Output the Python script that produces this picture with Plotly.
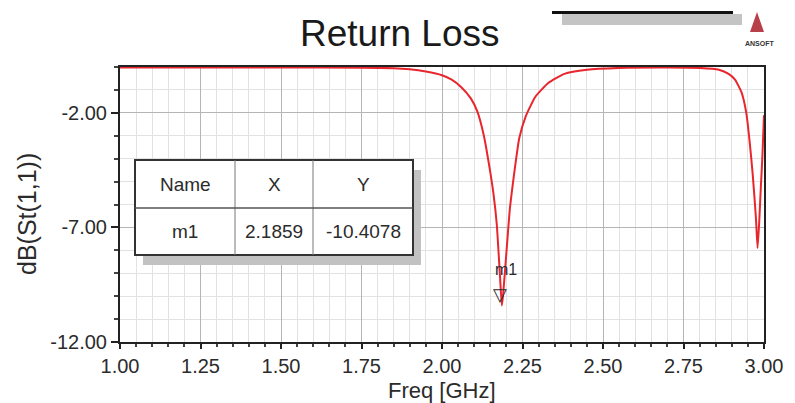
import plotly.graph_objects as go

# ---- data ----
freq_ghz = [1.00, 1.25, 1.50, 1.75, 1.85, 1.90, 1.95, 2.00, 2.03, 2.06, 2.09, 2.11,
            2.13, 2.15, 2.16, 2.17, 2.18, 2.1859, 2.19, 2.20, 2.21, 2.22, 2.24,
            2.26, 2.29, 2.33, 2.38, 2.45, 2.55, 2.70, 2.80, 2.86, 2.89, 2.91,
            2.93, 2.945, 2.955, 2.965, 2.975, 2.98, 2.985, 2.99, 2.995, 3.00]
s11_db = [-0.02, -0.02, -0.02, -0.03, -0.05, -0.10, -0.20, -0.36, -0.55, -0.88, -1.38, -1.95,
          -3.00, -4.60, -5.55, -6.85, -9.10, -10.41, -9.90, -8.10, -6.30, -5.10, -3.10,
          -2.15, -1.30, -0.70, -0.30, -0.12, -0.04, -0.02, -0.04, -0.12, -0.30, -0.55,
          -1.10, -2.00, -3.20, -4.70, -6.60, -7.90, -6.80, -5.30, -3.90, -2.10]

marker_name = ["m1"]
marker_x = [2.1859]
marker_y = [-10.4078]

table_header = ["Name", "X", "Y"]

x_tick_vals = [1.00, 1.25, 1.50, 1.75, 2.00, 2.25, 2.50, 2.75, 3.00]
x_tick_text = ["1.00", "1.25", "1.50", "1.75", "2.00", "2.25", "2.50", "2.75", "3.00"]
y_tick_vals = [-2, -7, -12]
y_tick_text = ["-2.00", "-7.00", "-12.00"]

# ---- layout geometry (pixels) ----
W, H = 795, 403
L, R, T, B = 120, 764, 67, 342


def px(x):
    return (x - L) / (R - L)


def py(y):
    return (B - y) / (B - T)


FONT = "Liberation Sans, Arial, sans-serif"
TXT = "#2b2b2b"

fig = go.Figure()
fig.add_trace(go.Scatter(
    x=freq_ghz, y=s11_db, mode="lines",
    line=dict(color="#e8262d", width=2, shape="spline", smoothing=0.5),
    hoverinfo="skip", showlegend=False))

shapes = []
annotations = []

# marker m1
annotations.append(dict(x=marker_x[0], y=marker_y[0], xref="x", yref="y", text="▽",
                        showarrow=False, yanchor="bottom", xanchor="center", xshift=-2, yshift=-1,
                        font=dict(family="DejaVu Sans", size=18, color=TXT)))
annotations.append(dict(x=marker_x[0], y=marker_y[0], xref="x", yref="y", text=marker_name[0],
                        showarrow=False, yanchor="bottom", xanchor="left", xshift=-9, yshift=26,
                        font=dict(family=FONT, size=16, color=TXT)))

# marker table
tx0, tx1, ty0, ty1 = 135, 413, 160, 255
col1, col2, rowm = 235, 313, 208
shapes.append(dict(type="rect", xref="paper", yref="paper",
                   x0=px(tx0 + 8), x1=px(tx1 + 8), y0=py(ty1 + 10), y1=py(ty0 + 10),
                   fillcolor="#c2c2c2", line=dict(width=0), layer="above"))
shapes.append(dict(type="rect", xref="paper", yref="paper",
                   x0=px(tx0), x1=px(tx1), y0=py(ty1), y1=py(ty0),
                   fillcolor="white", line=dict(color="#333333", width=2), layer="above"))
for cx in (col1, col2):
    shapes.append(dict(type="line", xref="paper", yref="paper",
                       x0=px(cx), x1=px(cx), y0=py(ty1), y1=py(ty0),
                       line=dict(color="#777777", width=1), layer="above"))
shapes.append(dict(type="line", xref="paper", yref="paper",
                   x0=px(tx0), x1=px(tx1), y0=py(rowm), y1=py(rowm),
                   line=dict(color="#555555", width=1.5), layer="above"))
col_centers = [(tx0 + col1) / 2, (col1 + col2) / 2, (col2 + tx1) / 2]
row_vals = [marker_name[0], f"{marker_x[0]:.4f}", f"{marker_y[0]:.4f}"]
for cc, h, v in zip(col_centers, table_header, row_vals):
    annotations.append(dict(x=px(cc), y=py((ty0 + rowm) / 2), xref="paper", yref="paper",
                            text=h, showarrow=False, xanchor="center", yanchor="middle",
                            font=dict(family=FONT, size=19, color=TXT)))
    annotations.append(dict(x=px(cc), y=py((rowm + ty1) / 2), xref="paper", yref="paper",
                            text=v, showarrow=False, xanchor="center", yanchor="middle",
                            font=dict(family=FONT, size=19, color=TXT)))

# top-right legend-like bars
shapes.append(dict(type="rect", xref="paper", yref="paper",
                   x0=px(562), x1=px(742), y0=py(25), y1=py(14),
                   fillcolor="#c4c4c4", line=dict(width=0)))
shapes.append(dict(type="line", xref="paper", yref="paper",
                   x0=px(552), x1=px(733), y0=py(12.5), y1=py(12.5),
                   line=dict(color="#111111", width=3)))
# ANSOFT logo
shapes.append(dict(type="path", xref="paper", yref="paper",
                   path=f"M {px(757)} {py(12)} L {px(764)} {py(32)} L {px(750)} {py(32)} Z",
                   fillcolor="#b8404a", line=dict(width=0)))
annotations.append(dict(x=px(760), y=py(44), xref="paper", yref="paper", text="<b>ANSOFT</b>",
                        showarrow=False, xanchor="center", yanchor="middle",
                        font=dict(family=FONT, size=7, color="#333333")))

# title
annotations.append(dict(x=px(400), y=py(33), xref="paper", yref="paper", text="Return Loss",
                        showarrow=False, xanchor="center", yanchor="middle",
                        font=dict(family=FONT, size=37, color="#1a1a1a")))
# axis titles
annotations.append(dict(x=px(442), y=py(390), xref="paper", yref="paper", text="Freq [GHz]",
                        showarrow=False, xanchor="center", yanchor="middle",
                        font=dict(family=FONT, size=22, color=TXT)))
annotations.append(dict(x=px(27), y=py(214), xref="paper", yref="paper", text="dB(St(1,1))",
                        showarrow=False, xanchor="center", yanchor="middle", textangle=-90,
                        font=dict(family=FONT, size=25, color=TXT)))

fig.update_layout(
    width=W, height=H,
    margin=dict(l=L, r=W - R, t=T, b=H - B),
    paper_bgcolor="white", plot_bgcolor="white",
    shapes=shapes, annotations=annotations,
    showlegend=False,
    xaxis=dict(range=[1.0, 3.0], tickvals=x_tick_vals, ticktext=x_tick_text,
               showline=True, linecolor="#222222", linewidth=2, mirror=True,
               ticks="outside", ticklen=5, tickwidth=2, tickcolor="#222222",
               showgrid=True, gridcolor="#b5b5b5", gridwidth=1,
               minor=dict(dtick=0.05, tick0=1.0, showgrid=True, gridcolor="#e2e2e2",
                          ticks="outside", ticklen=3, tickcolor="#444444"),
               tickfont=dict(family=FONT, size=20, color=TXT),
               zeroline=False, layer="below traces", fixedrange=True),
    yaxis=dict(range=[-12, 0], tickvals=y_tick_vals, ticktext=y_tick_text,
               showline=True, linecolor="#222222", linewidth=2, mirror=True,
               ticks="outside", ticklen=7, tickwidth=2, tickcolor="#222222",
               showgrid=True, gridcolor="#b5b5b5", gridwidth=1,
               minor=dict(dtick=1, tick0=0, showgrid=True, gridcolor="#e2e2e2",
                          ticks="outside", ticklen=4, tickcolor="#444444"),
               tickfont=dict(family=FONT, size=20, color=TXT),
               zeroline=False, layer="below traces", fixedrange=True),
)

fig.write_html("out.html")
